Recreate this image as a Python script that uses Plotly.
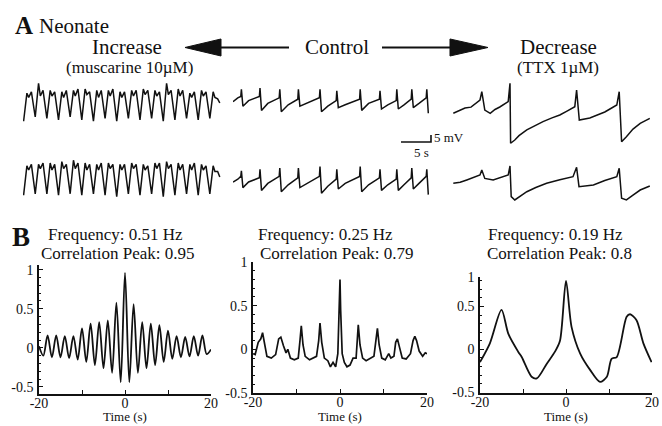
import plotly.graph_objects as go

W, H = 662, 426
FONT = "Liberation Serif"
INK = "#111111"

# ---------------- Panel A data (time in s, membrane potential in mV, relative) ----------------
MUSC_T = [0.1, 0.65, 0.95, 1.4, 2.04, 2.59, 2.89, 3.34, 3.98, 4.53, 4.83, 5.28,
          5.92, 6.47, 6.77, 7.22, 7.86, 8.41, 8.71, 9.16, 9.8, 10.35, 10.65, 11.1,
          11.74, 12.29, 12.59, 13.04, 13.68, 14.23, 14.53, 14.98, 15.62, 16.17, 16.47, 16.92,
          17.56, 18.11, 18.41, 18.86, 19.5, 20.05, 20.35, 20.8, 21.44, 21.99, 22.29, 22.74,
          23.38, 23.93, 24.23, 24.68, 25.32, 25.87, 26.17, 26.62, 27.26, 27.81, 28.11, 28.56,
          29.2, 29.75, 30.05, 30.5, 31.14, 31.69, 31.99, 32.44, 32.8]
MUSC_TOP_MV = [-13, 7, 4, 8, -10, 14, 5, 9, -11, 9, 5, 8, -12, 8, 4, 9, -10, 9, 5, 10,
               -12, 10, 6, 8, -13, 9, 4, 9, -11, 9, 5, 10, -13, 8, 4, 8, -11, 9, 5, 9,
               -12, 10, 6, 9, -11, 9, 5, 8, -13, 14, 6, 9, -12, 10, 5, 9, -11, 7, 4, 8,
               -12, 9, 5, 8, -11, 8, 4, 3, 0]
MUSC_BOT_MV = [-13, 8, 5, 9, -12, 9, 6, 10, -12, 10, 5, 9, -13, 11, 6, 9, -12, 12, 6, 10,
               -13, 10, 5, 9, -12, 9, 5, 10, -13, 10, 6, 9, -14, 9, 5, 9, -12, 10, 6, 9,
               -13, 9, 5, 8, -12, 10, 6, 10, -14, 11, 6, 9, -13, 10, 5, 9, -12, 9, 5, 10,
               -13, 9, 5, 8, -12, 8, 4, 4, 0]

CTRL_T = [0, 0.8, 1.3, 1.4, 1.65, 2.6, 4.4, 4.5, 4.75, 5.8, 7.7, 7.8, 8.05, 9.2,
          10.8, 10.9, 11.15, 12.3, 14.4, 14.5, 14.75, 15.8, 17.2, 17.3, 17.55, 18.7,
          21.1, 21.2, 21.45, 22.6, 24.4, 24.5, 24.75, 25.8, 27.2, 27.3, 27.55, 28.5,
          29.7, 29.8, 30.05, 31.0, 32.2, 32.3, 32.55]
CTRL_TOP_MV = [0.2, 3, 4, 9, -3, 1, 4, 10, -6, -1, 3, 9, -7, -2, 2, 9, -3, -1, 3, 9, -7, -3,
               1, 8, -4, -2, 2, 9, -6, -1, 2, 8, -5, -2, 1, 9, -5, -2, 2, 9, -4, -1, 3, 9, -8]
CTRL_BOT_MV = [0, 2, 4, 8, -4, 0, 3, 9, -6, -1, 4, 10, -7, -2, 3, 10, -4, -1, 4, 11, -8, -3,
               2, 9, -5, -1, 4, 11, -7, -2, 3, 9, -6, -2, 2, 9, -6, -2, 3, 10, -5, -1, 4, 9, -9]

TTX_TOP_T = [0.05, 1.0, 2.0, 3.0, 4.5, 4.8, 5.3, 6.2, 7.0, 7.8, 9.2, 9.5, 9.6, 10.3, 11.0,
             12.3, 13.8, 15.0, 16.5, 17.8, 19.0, 20.3, 20.6, 21.05, 22.8, 24.0, 25.3, 26.3,
             27.3, 27.7, 28.1, 28.9, 30.0, 31.2, 32.8]
TTX_TOP_MV = [-0.2, 1.8, 3.6, 4.2, 9.3, 15.2, 2.1, -0.2, 2.5, 4.3, 8.1, 21.2, -21.6, -19.3,
              -16.2, -12.1, -8.6, -6.2, -3.5, -1.4, 1.4, 4.5, 16.4, -5, -3.6, -1.8, 0.7, 3.2,
              5.7, 15.2, -20.5, -16.9, -11.5, -7.4, -3.8]
TTX_BOT_T = [0.05, 1.2, 2.3, 3.4, 4.5, 4.8, 5.3, 6.7, 8.0, 9.2, 9.5, 9.7, 10.3, 11.2, 12.3,
             13.8, 15.6, 17.8, 20.0, 20.6, 21.0, 23.4, 25.3, 27.3, 27.7, 28.1, 28.9, 30.0,
             31.2, 32.8]
TTX_BOT_MV = [0.5, 1.2, 2.9, 4.5, 6.4, 10, 4, 2.9, 4.6, 6.4, 12.9, -9, -11.4, -8.5, -5.5,
              -2.5, 0.5, 3, 5.2, 11.9, -1.9, -0.7, 2.5, 5.2, 11.2, -10.2, -11.4, -8, -4.3, -1.4]

SCALE_S = 5
SCALE_MV = 5

# ---------------- Panel B data (lag in s, correlation) ----------------
LAG_INC = [-20, -19, -18, -17, -16, -15, -14, -13, -12, -11, -10, -9, -8, -7, -6, -5, -4, -3,
           -2, -1, 0, 1, 2, 3, 4, 5, 6, 7, 8, 9, 10, 11, 12, 13, 14, 15, 16, 17, 18, 19, 20]
CORR_INC = [0.02, -0.1, 0.16, -0.12, 0.16, -0.12, 0.15, -0.13, 0.15, -0.15, 0.25, -0.18, 0.31,
            -0.22, 0.33, -0.26, 0.35, -0.32, 0.58, -0.44, 0.96, -0.44, 0.56, -0.32, 0.33, -0.26,
            0.31, -0.22, 0.29, -0.18, 0.22, -0.14, 0.15, -0.12, 0.14, -0.11, 0.15, -0.1, 0.16,
            -0.08, -0.02]

LAG_CTRL = [-20, -19.5, -18.8, -18.2, -17.8, -17.3, -16.8, -15.8, -14.8, -14.1, -13.6, -13.0,
            -12.4, -12.0, -11.4, -10.5, -9.6, -9.2, -8.9, -8.5, -8.0, -7.0, -6.2, -5.4, -4.9,
            -4.6, -4.2, -3.6, -2.8, -2.2, -1.6, -1.0, -0.5, -0.15, 0, 0.15, 0.5, 1.0, 1.6, 2.3,
            3.0, 3.7, 4.2, 4.6, 5.2, 6.0, 7.0, 7.8, 8.3, 8.6, 9.0, 9.6, 10.4, 11.2, 11.7, 12.4,
            12.8, 13.2, 13.7, 14.3, 15.2, 16.2, 16.8, 17.2, 17.6, 18.2, 19.0, 19.6, 20]
CORR_CTRL = [-0.05, -0.06, 0.08, 0.12, 0.19, 0.05, -0.08, -0.1, -0.06, 0.12, 0.14, 0.04,
             -0.04, 0.0, -0.1, -0.12, -0.1, 0.1, 0.27, 0.05, -0.08, -0.12, -0.1, -0.08, 0.1,
             0.3, 0.08, -0.1, -0.13, -0.2, -0.15, -0.2, -0.05, 0.5, 0.8, 0.45, -0.05, -0.15,
             -0.2, -0.18, -0.1, -0.1, 0.28, 0.05, -0.1, -0.13, -0.1, -0.08, 0.12, 0.24, 0.05,
             -0.1, -0.12, -0.05, -0.1, -0.08, 0.08, 0.12, 0.02, -0.1, -0.11, -0.05, 0.1, 0.15,
             0.1, -0.02, -0.08, -0.04, -0.05]

LAG_DEC = [-20, -17.7, -15, -13.4, -11.1, -10.3, -8.0, -6.8, -4.5, -2.6, -1.4, 0, 1.3, 3.3,
           5.6, 7.9, 9.5, 10.6, 11.8, 14.1, 14.9, 16.4, 18.0, 19.9]
CORR_DEC = [-0.15, 0.07, 0.46, 0.18, -0.03, -0.09, -0.32, -0.34, -0.17, -0.03, 0.1, 0.8,
            0.26, -0.05, -0.24, -0.38, -0.32, -0.11, -0.09, 0.38, 0.41, 0.34, 0.07, -0.15]

FREQ_HZ = ["0.51", "0.25", "0.19"]
CORR_PEAK = ["0.95", "0.79", "0.8"]
TIME_TICKS = [-20, -10, 0, 10, 20]
TIME_TICKTEXT = ["-20", "", "0", "", "20"]


def px(x):
    return x / W


def py(y):
    return 1 - y / H


fig = go.Figure()
layout = dict(width=W, height=H, autosize=False, margin=dict(l=0, r=0, t=0, b=0, pad=0),
              paper_bgcolor="white", plot_bgcolor="white", showlegend=False,
              font=dict(family=FONT, color=INK))
counter = [0]


def new_axes(xpx, ypx, xr, yr, visible=False):
    counter[0] += 1
    n = counter[0]
    sx = "" if n == 1 else str(n)
    layout["xaxis" + sx] = dict(domain=[px(xpx[0]), px(xpx[1])], range=xr, visible=visible,
                                anchor="y" + sx, fixedrange=True, showgrid=False, zeroline=False,
                                automargin=False)
    layout["yaxis" + sx] = dict(domain=[py(ypx[1]), py(ypx[0])], range=yr, visible=visible,
                                anchor="x" + sx, fixedrange=True, showgrid=False, zeroline=False,
                                automargin=False)
    return "x" + sx, "y" + sx, "xaxis" + sx, "yaxis" + sx


def add_line(xa, ya, t, v, width=1.5, shape="linear", smoothing=1.0):
    ln = dict(color=INK, width=width, shape=shape)
    if shape == "spline":
        ln["smoothing"] = smoothing
    fig.add_trace(go.Scatter(x=t, y=v, xaxis=xa, yaxis=ya, mode="lines", line=ln,
                             hoverinfo="skip"))


# ---- Panel A traces: 6 px per s, 1.4 px per mV ----
TR = [-25, 25]
XR = [0, 33]
traces_a = [
    ((23, 221), 103, MUSC_T, MUSC_TOP_MV),
    ((23, 221), 177, MUSC_T, MUSC_BOT_MV),
    ((233, 431), 102, CTRL_T, CTRL_TOP_MV),
    ((233, 431), 182, CTRL_T, CTRL_BOT_MV),
    ((453, 651), 113, TTX_TOP_T, TTX_TOP_MV),
    ((453, 651), 184, TTX_BOT_T, TTX_BOT_MV),
]
for xpx, yc, t, v in traces_a:
    xa, ya, _, _ = new_axes(xpx, (yc - 35, yc + 35), XR, TR)
    add_line(xa, ya, t, v, width=1.5)

# scale bar
xa, ya, _, _ = new_axes((398, 434), (130, 146), [-0.5, 5.5], [-2.857, 8.571])
add_line(xa, ya, [0, SCALE_S, SCALE_S], [0, 0, SCALE_MV], width=1.6)


# ---- Panel B correlograms ----
def corr_axes(xpx, ypx, yr, tickvals, ticktext):
    xa, ya, xk, yk = new_axes(xpx, ypx, [-20, 20], yr, visible=True)
    common = dict(showline=True, linecolor=INK, linewidth=1.5, ticks="inside", ticklen=4,
                  tickwidth=1.2, tickcolor=INK, tickfont=dict(family=FONT, size=14, color=INK))
    layout[xk].update(common, tickmode="array", tickvals=TIME_TICKS, ticktext=TIME_TICKTEXT,
                      ticklabelstandoff=-5)
    layout[yk].update(common, tickmode="array", tickvals=tickvals, ticktext=ticktext,
                      minor=dict(tickmode="linear", tick0=0, dtick=0.1, ticks="inside",
                                 ticklen=2, tickwidth=1, tickcolor=INK),
                      ticklabelstandoff=1)
    return xa, ya


xa, ya = corr_axes((39, 211), (265, 394), [-0.59, 1.06], [-0.5, 0, 0.5, 1],
                   ["-0.5", "0", "0.5", "1"])
add_line(xa, ya, LAG_INC, CORR_INC, width=1.8, shape="spline", smoothing=0.9)

xa, ya = corr_axes((253, 427), (262, 393), [-0.5, 1.0], [-0.5, 0, 0.5, 1],
                   ["-0.5", "0", "0.5", "1"])
add_line(xa, ya, LAG_CTRL, CORR_CTRL, width=1.7)

xa, ya = corr_axes((480, 652), (277, 393), [-0.51, 0.845], [-0.5, 0, 0.5, 0.84],
                   ["-0.5", "0", "0.5", "1"])
add_line(xa, ya, LAG_DEC, CORR_DEC, width=1.8, shape="spline", smoothing=0.8)

# ---- text ----
ann = []


def text(x, y, s, size, xanchor="center"):
    ann.append(dict(x=px(x), y=py(y), xref="paper", yref="paper", text=s, showarrow=False,
                    xanchor=xanchor, yanchor="middle",
                    font=dict(family=FONT, size=size, color=INK)))


text(13, 26, "<b>A</b>", 25, "left")
text(37, 26, "Neonate", 21, "left")
text(127, 47, "Increase", 21)
text(129, 68, "(muscarine 10\u00b5M)", 17)
text(337, 47, "Control", 21)
text(558, 47, "Decrease", 21)
text(558, 68, "(TTX 1\u00b5M)", 17)
text(432, 137, "5 mV", 13, "left")
text(421, 152, "5 s", 13)

text(10, 237, "<b>B</b>", 27, "left")
freq_x = [115, 325, 555]
peak_x = [118, 336, 559]
for i in range(3):
    text(freq_x[i], 234, "Frequency: %s Hz" % FREQ_HZ[i], 17)
    text(peak_x[i], 254, "Correlation Peak: %s" % CORR_PEAK[i], 17)
for cx in [125, 340, 566]:
    text(cx, 416, "Time (s)", 13)

# ---- arrows ----
shapes = []


def seg(x0, y0, x1, y1, w=2):
    shapes.append(dict(type="line", xref="paper", yref="paper", x0=px(x0), y0=py(y0),
                       x1=px(x1), y1=py(y1), line=dict(color=INK, width=w)))


def head(tip, base, yc, half=8.5):
    path = "M %f %f L %f %f L %f %f Z" % (px(tip), py(yc), px(base), py(yc - half),
                                          px(base), py(yc + half))
    shapes.append(dict(type="path", xref="paper", yref="paper", path=path,
                       fillcolor=INK, line=dict(color=INK, width=1)))


seg(219, 47.5, 289, 47.5)
head(185, 221, 47.5)
seg(382, 47.5, 452, 47.5)
head(488, 450, 47.5)

layout["annotations"] = ann
layout["shapes"] = shapes
fig.update_layout(**layout)
fig.write_html("out.html", config={"displayModeBar": False},
               post_script="document.body.style.margin='0px';")
